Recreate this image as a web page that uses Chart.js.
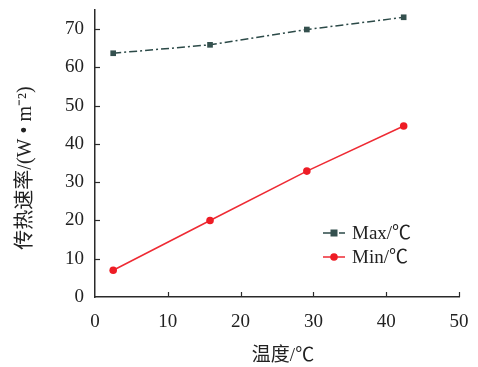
<!DOCTYPE html>
<html><head><meta charset="utf-8">
<script src="https://cdn.jsdelivr.net/npm/chart.js@4/dist/chart.umd.min.js"></script>
<style>html,body{margin:0;padding:0;background:#fff}#wrap{width:478px;height:367px}</style>
</head><body><div id="wrap"><canvas id="c"></canvas></div>
<script>
const temps = [2.5, 15.8, 29.1, 42.4];
const maxRate = [63.7, 65.9, 69.9, 73.1];
const minRate = [7.0, 20.0, 32.9, 44.7];
const seriesLabels = ['Max/\u2103', 'Min/\u2103'];
const xTickValues = [0, 10, 20, 30, 40, 50];
const yTickValues = [0, 10, 20, 30, 40, 50, 60, 70];
const xTitle = '温度/\u2103';
const yTitle = '传热速率/(W \u2022 m\u207B\u00B2)';

const SERIF = '"Liberation Serif", "Noto Sans CJK SC", serif';
const axisColor = '#2a2a2a';

const ticksPlugin = {
  id: 'inTicks',
  afterDraw(chart) {
    const ctx = chart.ctx, a = chart.chartArea;
    const xs = chart.scales.x, ys = chart.scales.y;
    ctx.save();
    ctx.strokeStyle = axisColor; ctx.lineWidth = 1.2;
    xs.ticks.forEach(t => {
      if (t.value === xs.min) return;
      const px = Math.round(xs.getPixelForValue(t.value)) + 0.5;
      ctx.beginPath(); ctx.moveTo(px, a.bottom); ctx.lineTo(px, a.bottom - 5); ctx.stroke();
    });
    ys.ticks.forEach(t => {
      if (t.value === ys.min) return;
      const py = Math.round(ys.getPixelForValue(t.value)) + 0.5;
      ctx.beginPath(); ctx.moveTo(a.left, py); ctx.lineTo(a.left + 5, py); ctx.stroke();
    });
    // axis titles
    ctx.fillStyle = '#222';
    ctx.textAlign = 'center'; ctx.textBaseline = 'middle';
    ctx.font = '19px ' + SERIF;
    ctx.fillText(xTitle, (a.left + a.right) / 2 + 6, 356);
    ctx.save();
    ctx.translate(26, 168);
    ctx.rotate(-Math.PI / 2);
    ctx.font = '20px ' + SERIF;
    ctx.fillText(yTitle, 0, 0);
    ctx.restore();
    // legend
    const lx = a.left + 228, ly0 = a.top + 223, gap = 24;
    chart.data.datasets.forEach((ds, i) => {
      const y = ly0 + i * gap;
      ctx.strokeStyle = ds.borderColor; ctx.lineWidth = ds.borderWidth;
      ctx.setLineDash(ds.borderDash || []);
      ctx.beginPath(); ctx.moveTo(lx, y); ctx.lineTo(lx + 22, y); ctx.stroke();
      ctx.setLineDash([]);
      ctx.fillStyle = ds.pointBackgroundColor;
      if (ds.pointStyle === 'rect') {
        ctx.fillRect(lx + 11 - 3.5, y - 3.5, 7, 7);
      } else {
        ctx.beginPath(); ctx.arc(lx + 11, y, 3.8, 0, Math.PI * 2); ctx.fill();
      }
      ctx.fillStyle = '#222'; ctx.font = '19px ' + SERIF;
      ctx.textBaseline = 'middle'; ctx.textAlign = 'left';
      ctx.fillText(ds.label, lx + 29, y + 1);
    });
    ctx.restore();
  }
};

new Chart(document.getElementById('c'), {
  type: 'scatter',
  data: {
    datasets: [
      {
        label: seriesLabels[0],
        data: temps.map((t, i) => ({x: t, y: maxRate[i]})),
        showLine: true,
        borderColor: '#2c4a48', borderWidth: 1.5,
        borderDash: [8, 3, 2, 3],
        pointStyle: 'rect', pointRadius: 4,
        pointBackgroundColor: '#34504e', pointBorderColor: '#34504e', pointBorderWidth: 0
      },
      {
        label: seriesLabels[1],
        data: temps.map((t, i) => ({x: t, y: minRate[i]})),
        showLine: true,
        borderColor: '#ee2a33', borderWidth: 1.5,
        pointStyle: 'circle', pointRadius: 3.8,
        pointBackgroundColor: '#ee1c25', pointBorderColor: '#ee1c25', pointBorderWidth: 0
      }
    ]
  },
  options: {
    responsive: true, maintainAspectRatio: false, animation: false,
    layout: {padding: {left: 0, right: 19, top: 10, bottom: 0}},
    plugins: {legend: {display: false}, tooltip: {enabled: false}},
    scales: {
      x: {
        type: 'linear', min: 0, max: 50,
        afterBuildTicks(s) { s.ticks = xTickValues.map(v => ({value: v})); },
        ticks: {color: '#222', font: {family: SERIF, size: 19}, padding: 14},
        grid: {display: false, drawTicks: false},
        border: {display: true, color: axisColor, width: 1.5},
        afterFit(s) { s.height = 70; s.paddingLeft = 0; s.paddingRight = 0; }
      },
      y: {
        type: 'linear', min: 0, max: 75,
        afterBuildTicks(s) { s.ticks = yTickValues.map(v => ({value: v})); },
        ticks: {color: '#222', font: {family: SERIF, size: 19}, padding: 11},
        grid: {display: false, drawTicks: false},
        border: {display: true, color: axisColor, width: 1.5},
        afterFit(s) { s.width = 95; s.paddingTop = 0; s.paddingBottom = 0; }
      }
    }
  },
  plugins: [ticksPlugin]
});
</script></body></html>
